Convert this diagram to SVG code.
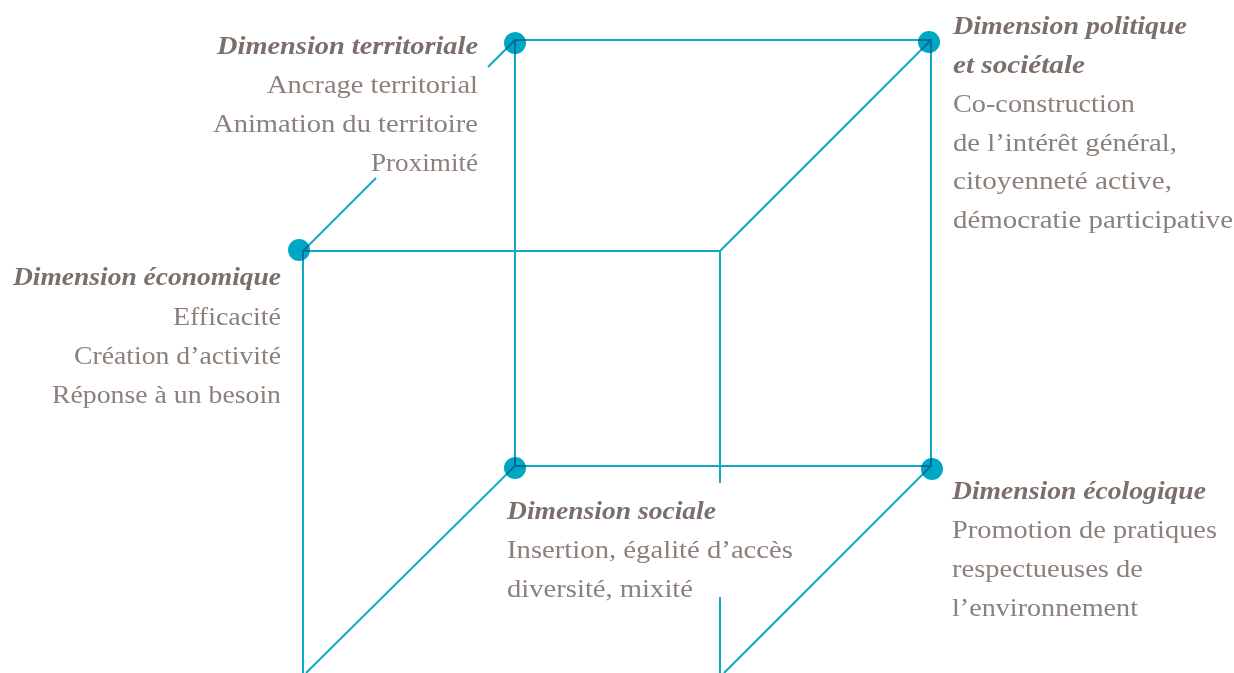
<svg xmlns="http://www.w3.org/2000/svg" width="1234" height="673" viewBox="0 0 1234 673">
<style>
.bg{fill:#ffffff}
.dot{fill:#00a7c4}
.edge{stroke:#10a8c6;stroke-width:2;fill:none;stroke-linecap:butt}
#connectors{mix-blend-mode:multiply}
.t{font-family:"Liberation Serif","DejaVu Serif",serif;font-size:26px;fill:#8c807b}
.h{font-family:"Liberation Serif","DejaVu Serif",serif;font-size:26px;font-weight:bold;font-style:italic;fill:#7b6f6a}
.r{text-anchor:end}
</style>
<rect class="bg" x="0" y="0" width="1234" height="673"/>

<g id="node-territoriale">
<circle class="dot" cx="515" cy="43" r="11"/>
<text class="h r" x="478" y="54" textLength="261" lengthAdjust="spacingAndGlyphs">Dimension territoriale</text>
<text class="t r" x="478" y="93" textLength="211" lengthAdjust="spacingAndGlyphs">Ancrage territorial</text>
<text class="t r" x="478" y="132" textLength="265" lengthAdjust="spacingAndGlyphs">Animation du territoire</text>
<text class="t r" x="478" y="171" textLength="107" lengthAdjust="spacingAndGlyphs">Proximité</text>
</g>

<g id="node-politique">
<circle class="dot" cx="929" cy="42" r="11"/>
<text class="h" x="953" y="34" textLength="234" lengthAdjust="spacingAndGlyphs">Dimension politique</text>
<text class="h" x="953" y="73" textLength="132" lengthAdjust="spacingAndGlyphs">et sociétale</text>
<text class="t" x="953" y="112" textLength="182" lengthAdjust="spacingAndGlyphs">Co-construction</text>
<text class="t" x="953" y="151" textLength="224" lengthAdjust="spacingAndGlyphs">de l’intérêt général,</text>
<text class="t" x="953" y="189" textLength="219" lengthAdjust="spacingAndGlyphs">citoyenneté active,</text>
<text class="t" x="953" y="228" textLength="280" lengthAdjust="spacingAndGlyphs">démocratie participative</text>
</g>

<g id="node-economique">
<circle class="dot" cx="299" cy="250" r="11"/>
<text class="h r" x="281" y="285" textLength="268" lengthAdjust="spacingAndGlyphs">Dimension économique</text>
<text class="t r" x="281" y="325" textLength="108" lengthAdjust="spacingAndGlyphs">Efficacité</text>
<text class="t r" x="281" y="364" textLength="207" lengthAdjust="spacingAndGlyphs">Création d’activité</text>
<text class="t r" x="281" y="403" textLength="229" lengthAdjust="spacingAndGlyphs">Réponse à un besoin</text>
</g>

<g id="node-sociale">
<circle class="dot" cx="515" cy="468" r="11"/>
<text class="h" x="507" y="519" textLength="209" lengthAdjust="spacingAndGlyphs">Dimension sociale</text>
<text class="t" x="507" y="558" textLength="286" lengthAdjust="spacingAndGlyphs">Insertion, égalité d’accès</text>
<text class="t" x="507" y="597" textLength="186" lengthAdjust="spacingAndGlyphs">diversité, mixité</text>
</g>

<g id="node-ecologique">
<circle class="dot" cx="932" cy="469" r="11"/>
<text class="h" x="952" y="499" textLength="254" lengthAdjust="spacingAndGlyphs">Dimension écologique</text>
<text class="t" x="952" y="538" textLength="265" lengthAdjust="spacingAndGlyphs">Promotion de pratiques</text>
<text class="t" x="952" y="577" textLength="191" lengthAdjust="spacingAndGlyphs">respectueuses de</text>
<text class="t" x="952" y="616" textLength="186" lengthAdjust="spacingAndGlyphs">l’environnement</text>
</g>

<g id="connectors">
<path class="edge" d="M515,40 H931 V466 H515 Z"/>
<path class="edge" d="M303,680 V251 H720 V483"/>
<path class="edge" d="M720,597 V680"/>
<path class="edge" d="M303,251 L376,178"/>
<path class="edge" d="M488,67 L515,40"/>
<path class="edge" d="M720,251 L931,40"/>
<path class="edge" d="M515,466 L306,673"/>
<path class="edge" d="M931,466 L724,673"/>
</g>
</svg>
